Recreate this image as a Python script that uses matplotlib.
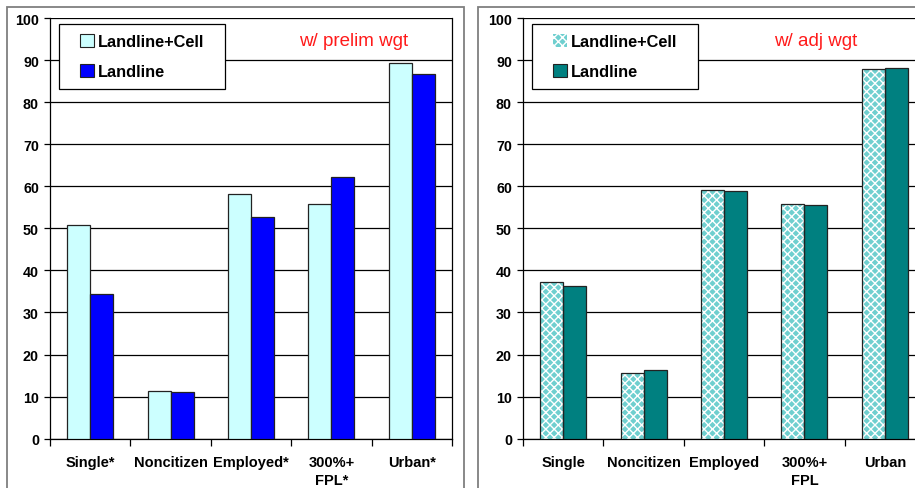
import matplotlib
matplotlib.use("Agg")
import matplotlib.pyplot as plt
import numpy as np
from matplotlib.patches import Rectangle

# values (percent)
cats_left = ["Single*", "Noncitizen", "Employed*", "300%+\nFPL*", "Urban*"]
cats_right = ["Single", "Noncitizen", "Employed", "300%+\nFPL", "Urban"]
prelim_lc = [50.8, 11.4, 58.2, 55.8, 89.3]
prelim_l = [34.3, 11.0, 52.7, 62.2, 86.7]
adj_lc = [37.3, 15.7, 59.1, 55.8, 87.9]
adj_l = [36.4, 16.4, 58.9, 55.6, 88.1]
series_names = ["Landline+Cell", "Landline"]
yticks = list(range(0, 101, 10))

plt.rcParams["font.family"] = ["Liberation Sans", "DejaVu Sans"]

W, H = 915, 489
fig = plt.figure(figsize=(W / 100, H / 100), dpi=100)

# gray outer frames around each panel
fig.patches.append(Rectangle((7 / W, -0.05), 457 / W, 1 - 8 / H + 0.05,
                             transform=fig.transFigure, fill=False,
                             edgecolor="#7f7f7f", lw=1.3))
fig.patches.append(Rectangle((478 / W, -0.05), 0.6, 1 - 8 / H + 0.05,
                             transform=fig.transFigure, fill=False,
                             edgecolor="#7f7f7f", lw=1.3))

bottom = (H - 439.7) / H
height = 420.7 / H
bw = 0.285


def panel(left, cats, lc, l, lc_style, l_color, note, note_x):
    ax = fig.add_axes([left / W, bottom, 402 / W, height])
    x = np.arange(len(cats))
    if lc_style == "hatch":
        ax.bar(x - bw / 2, lc, bw, color="#6fcfcf", hatch="xxxx",
               edgecolor="white", lw=0, zorder=3)
        ax.bar(x - bw / 2, lc, bw, fill=False, edgecolor="#222222",
               lw=0.9, zorder=4)
        lc_handle = Rectangle((0, 0), 1, 1, facecolor="#6fcfcf", hatch="xxxx",
                              edgecolor="white", lw=0)
    else:
        ax.bar(x - bw / 2, lc, bw, color="#ccffff", edgecolor="#222222",
               lw=0.9, zorder=3)
        lc_handle = Rectangle((0, 0), 1, 1, facecolor="#ccffff",
                              edgecolor="#222222", lw=0.8)
    ax.bar(x + bw / 2, l, bw, color=l_color, edgecolor="#222222", lw=0.9, zorder=3)
    l_handle = Rectangle((0, 0), 1, 1, facecolor=l_color, edgecolor="#222222", lw=0.8)

    ax.set_xlim(-0.5, len(cats) - 0.5)
    ax.set_ylim(0, 100)
    ax.set_yticks(yticks)
    ax.yaxis.grid(True, color="black", lw=0.9, zorder=0)
    ax.set_axisbelow(True)
    ax.set_xticks(x)
    ax.set_xticklabels(cats, fontsize=10.5, fontweight="bold", linespacing=1.35)
    ax.set_xticks(np.arange(-0.5, len(cats)), minor=True)
    ax.tick_params(axis="x", which="major", length=0, pad=12)
    ax.tick_params(axis="x", which="minor", length=5, width=0.9, direction="out")
    ax.tick_params(axis="y", length=4, width=0.9, direction="out", pad=4)
    for t in ax.get_yticklabels():
        t.set_fontsize(10.3)
        t.set_fontweight("bold")
    for s in ["left", "bottom", "right"]:
        ax.spines[s].set_linewidth(0.9)
        ax.spines[s].set_color("black")
    ax.spines["top"].set_visible(False)

    # legend box drawn by hand so the padding matches
    box_y = (439.7 - 90) / 420.7
    ax.add_patch(Rectangle((0.022, box_y), 0.413, 65 / 420.7,
                           transform=ax.transAxes, facecolor="white",
                           edgecolor="black", lw=0.9, zorder=5))
    leg = ax.legend([lc_handle, l_handle], series_names, loc="center",
                    bbox_to_anchor=(0.022 + 0.413 / 2, box_y + 65 / 420.7 / 2),
                    frameon=False, prop={"size": 11.8, "weight": "bold"},
                    handlelength=0.85, handleheight=0.85, handletextpad=0.25,
                    labelspacing=0.9, borderpad=0.2)
    leg.set_zorder(6)

    ax.text(note_x, (439.7 - 42) / 420.7, note, transform=ax.transAxes,
            color="#ff1a1a", fontsize=13.5, ha="center", va="center")
    return ax


panel(50, cats_left, prelim_lc, prelim_l, "solid", "#0000ff",
      "w/ prelim wgt", 0.754)
panel(523, cats_right, adj_lc, adj_l, "hatch", "#008080",
      "w/ adj wgt", 0.728)

fig.savefig("out.png", dpi=100)
